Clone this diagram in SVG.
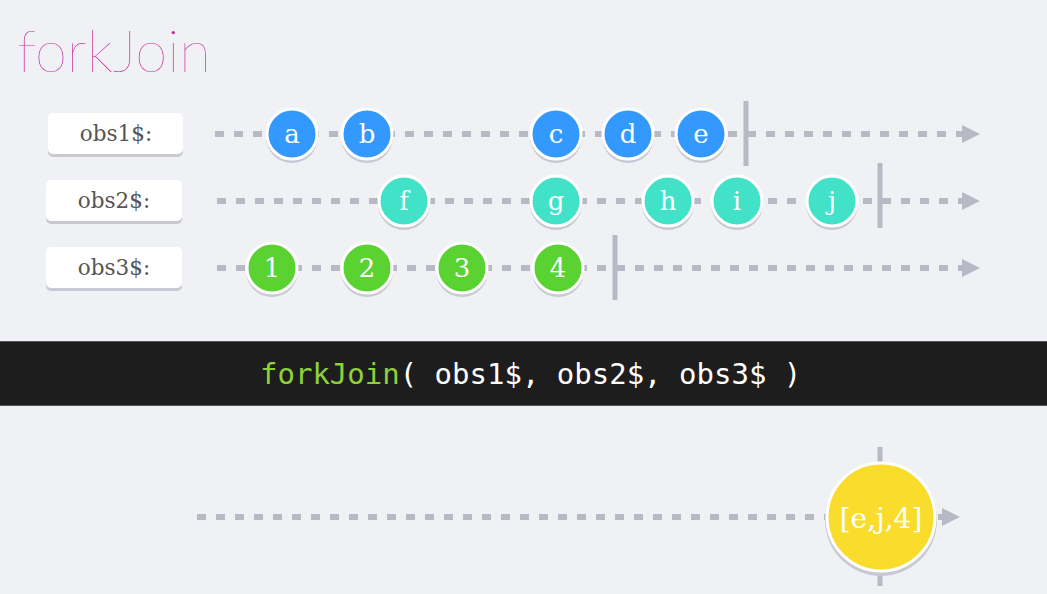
<svg xmlns="http://www.w3.org/2000/svg" width="1047" height="594" viewBox="0 0 1047 594">
<defs>
<style>
.line{stroke:#b9b9c5;stroke-width:6;stroke-dasharray:9 10;fill:none}
.bar{stroke:#b9b9c5;stroke-width:5}
.head{fill:#b9b9c5}
.lbl rect.b{fill:#ffffff}
.lbl rect.s{fill:#c9c9d2}
.lbl text{font-family:"DejaVu Serif","Liberation Serif",serif;font-size:21.5px;fill:#555555;text-anchor:middle}
.m circle.s{fill:#c9c9d3}
.m circle.c{stroke:#ffffff;stroke-width:3}
.m text{font-family:"DejaVu Serif","Liberation Serif",serif;font-size:26px;fill:#ffffff;text-anchor:middle}
.blue{fill:#3399ff}
.teal{fill:#42e2c8}
.green{fill:#5ad232}
</style>
</defs>
<rect x="0" y="0" width="1047" height="594" fill="#f0f1f5"/>
<text x="17" y="72" font-family="Lato, 'Open Sans', sans-serif" font-weight="200" font-size="58" fill="#c8269a">forkJoin</text>

<g id="connectors">
<line class="line" x1="215" y1="134" x2="962" y2="134"/>
<polygon class="head" points="962,125 980,134 962,143"/>
<line class="bar" x1="746" y1="101" x2="746" y2="166"/>
<line class="line" x1="217" y1="201" x2="962" y2="201"/>
<polygon class="head" points="962,192 980,201 962,210"/>
<line class="bar" x1="880" y1="163" x2="880" y2="228"/>
<line class="line" x1="217" y1="268" x2="962" y2="268"/>
<polygon class="head" points="962,259 980,268 962,277"/>
<line class="bar" x1="615" y1="235" x2="615" y2="300"/>
<line class="line" x1="197" y1="517" x2="942" y2="517"/>
<polygon class="head" points="942,508 960,517 942,526"/>
<line class="bar" x1="880" y1="447" x2="880" y2="586"/>
</g>

<g id="label-obs1" class="lbl"><rect class="s" x="48" y="116" width="135" height="41" rx="5"/><rect class="b" x="48" y="113" width="135" height="41" rx="5"/><text x="116" y="141">obs1$:</text></g>
<g id="label-obs2" class="lbl"><rect class="s" x="46" y="183" width="136" height="41" rx="5"/><rect class="b" x="46" y="180" width="136" height="41" rx="5"/><text x="114" y="208">obs2$:</text></g>
<g id="label-obs3" class="lbl"><rect class="s" x="46" y="250" width="136" height="41" rx="5"/><rect class="b" x="46" y="247" width="136" height="41" rx="5"/><text x="114" y="275">obs3$:</text></g>

<g id="node-a" class="m"><circle class="s" cx="292" cy="137" r="26"/><circle class="c blue" cx="292" cy="134" r="25"/><text x="292" y="143">a</text></g>
<g id="node-b" class="m"><circle class="s" cx="367" cy="137" r="26"/><circle class="c blue" cx="367" cy="134" r="25"/><text x="367" y="143">b</text></g>
<g id="node-c" class="m"><circle class="s" cx="556" cy="137" r="26"/><circle class="c blue" cx="556" cy="134" r="25"/><text x="556" y="143">c</text></g>
<g id="node-d" class="m"><circle class="s" cx="628" cy="137" r="26"/><circle class="c blue" cx="628" cy="134" r="25"/><text x="628" y="143">d</text></g>
<g id="node-e" class="m"><circle class="s" cx="701" cy="137" r="26"/><circle class="c blue" cx="701" cy="134" r="25"/><text x="701" y="143">e</text></g>

<g id="node-f" class="m"><circle class="s" cx="404" cy="204" r="26"/><circle class="c teal" cx="404" cy="201" r="25"/><text x="404" y="210">f</text></g>
<g id="node-g" class="m"><circle class="s" cx="556" cy="204" r="26"/><circle class="c teal" cx="556" cy="201" r="25"/><text x="556" y="210">g</text></g>
<g id="node-h" class="m"><circle class="s" cx="668" cy="204" r="26"/><circle class="c teal" cx="668" cy="201" r="25"/><text x="668" y="210">h</text></g>
<g id="node-i" class="m"><circle class="s" cx="737" cy="204" r="26"/><circle class="c teal" cx="737" cy="201" r="25"/><text x="737" y="210">i</text></g>
<g id="node-j" class="m"><circle class="s" cx="832" cy="204" r="26"/><circle class="c teal" cx="832" cy="201" r="25"/><text x="832" y="210">j</text></g>

<g id="node-1" class="m"><circle class="s" cx="272" cy="271" r="26"/><circle class="c green" cx="272" cy="268" r="25"/><text x="272" y="277">1</text></g>
<g id="node-2" class="m"><circle class="s" cx="367" cy="271" r="26"/><circle class="c green" cx="367" cy="268" r="25"/><text x="367" y="277">2</text></g>
<g id="node-3" class="m"><circle class="s" cx="462" cy="271" r="26"/><circle class="c green" cx="462" cy="268" r="25"/><text x="462" y="277">3</text></g>
<g id="node-4" class="m"><circle class="s" cx="558" cy="271" r="26"/><circle class="c green" cx="558" cy="268" r="25"/><text x="558" y="277">4</text></g>

<g id="code-bar">
<rect x="0" y="341" width="1047" height="65" fill="#1d1d1d"/>
<line x1="0" y1="341.5" x2="1047" y2="341.5" stroke="#555" stroke-width="1"/>
<line x1="0" y1="405.5" x2="1047" y2="405.5" stroke="#555" stroke-width="1"/>
<text x="260" y="384" font-family="'DejaVu Sans Mono', monospace" font-size="29" fill="#ffffff"><tspan fill="#8ed13a">forkJoin</tspan>( obs1$, obs2$, obs3$ )</text>
</g>

<g id="node-result">
<circle cx="881" cy="520" r="56" fill="#c9c9d3"/>
<circle cx="881" cy="517" r="54" fill="#f9dc2c" stroke="#ffffff" stroke-width="3"/>
<text x="881" y="528" font-family="'DejaVu Serif', serif" font-size="28" fill="#ffffff" text-anchor="middle">[e,j,4]</text>
</g>
</svg>
